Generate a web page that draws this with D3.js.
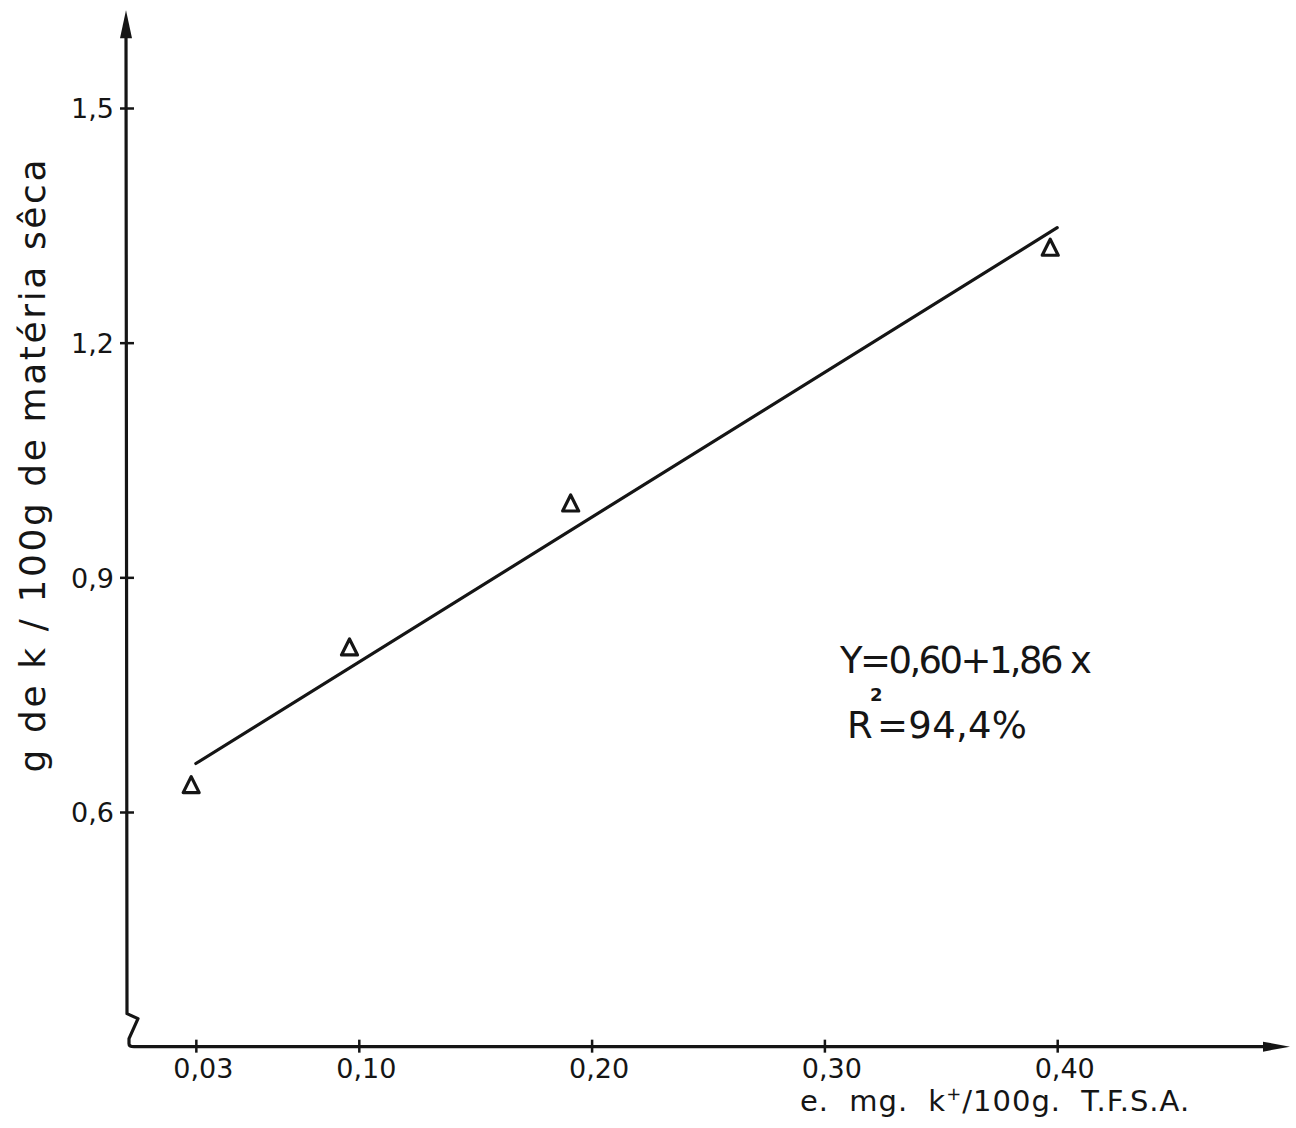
<!DOCTYPE html>
<html>
<head>
<meta charset="utf-8">
<script src="https://cdn.jsdelivr.net/npm/d3@7"></script>
<style>
  html, body { margin: 0; padding: 0; background: #fff; }
  svg { display: block; }
  text { font-family: "DejaVu Sans", sans-serif; fill: #151515; }
</style>
</head>
<body>
<svg id="chart"></svg>
<script>
// Potássio na matéria sêca vs. K trocável no solo (scan reproduction)
const X_TICKS = [0.03, 0.10, 0.20, 0.30, 0.40];
const Y_TICKS = [0.6, 0.9, 1.2, 1.5];

// observed points (triangles)
const POINT_X = [0.028, 0.096, 0.191, 0.397];
const POINT_Y = [0.635, 0.811, 0.995, 1.322];

// fitted line ends
const FIT_X = [0.03, 0.40];
const FIT_Y = [0.662, 1.347];

const Y_LABEL = "g de k / 100g de matéria sêca";
const EQ_LINE = "Y=0,60+1,86 x";
const R2_VALUE = "=94,4%";

const VW = 1296, VH = 1128;
const INK = "#151515";

const svg = d3.select("#chart").attr("width", VW).attr("height", VH)
  .attr("viewBox", `0 0 ${VW} ${VH}`);

// axes run from x=0 and y=0.30 (broken) out to the arrow tips
const x = d3.scaleLinear().domain([0, 0.5]).range([126, 1290]);
const y = d3.scaleLinear().domain([0.6, 1.5]).range([812, 108]);

const locale = d3.formatLocale({ decimal: ",", thousands: ".", grouping: [3], currency: ["", ""] });
const fx = locale.format(".2f");
const fy = locale.format(".1f");

const ox = x(0), oy = y(0.30);
const yTop = y(1.625), xEnd = x(0.5);

// ── axis lines ──────────────────────────────────────────────
const axisPath = d3.path();
axisPath.moveTo(ox, yTop + 20);
axisPath.lineTo(ox + 1, oy - 33);
axisPath.lineTo(ox + 12, oy - 28);   // break zig
axisPath.lineTo(ox + 3, oy - 8);
axisPath.lineTo(ox + 3, oy - 3);
axisPath.quadraticCurveTo(ox + 3, oy, ox + 8, oy);
axisPath.lineTo(xEnd - 20, oy);

svg.append("path").attr("d", axisPath.toString())
  .attr("fill", "none").attr("stroke", INK).attr("stroke-width", 3.2)
  .attr("stroke-linejoin", "round");

// arrow heads
svg.append("path")
  .attr("d", `M${ox},${yTop} L${ox - 6},${yTop + 28} L${ox + 6},${yTop + 28} Z`)
  .attr("fill", INK);
svg.append("path")
  .attr("d", `M${xEnd},${oy} L${xEnd - 27},${oy - 5} L${xEnd - 27},${oy + 5} Z`)
  .attr("fill", INK);

// ── ticks ───────────────────────────────────────────────────
const gy = svg.append("g").attr("transform", `translate(${ox},0)`)
  .call(d3.axisLeft(y).tickValues(Y_TICKS).tickFormat(fy).tickSize(6));
gy.select(".domain").remove();
gy.selectAll(".tick line").attr("x1", 8).attr("x2", -6)
  .attr("stroke", INK).attr("stroke-width", 2.5);
gy.selectAll(".tick text")
  .attr("font-size", 27).attr("font-family", "DejaVu Sans")
  .attr("fill", INK).attr("x", -12).attr("dy", "0.36em");

const gx = svg.append("g").attr("transform", `translate(0,${oy})`)
  .call(d3.axisBottom(x).tickValues(X_TICKS).tickFormat(fx).tickSize(6));
gx.select(".domain").remove();
gx.selectAll(".tick line").attr("y1", -7).attr("y2", 6)
  .attr("stroke", INK).attr("stroke-width", 2.5);
gx.selectAll(".tick text")
  .attr("font-size", 27).attr("font-family", "DejaVu Sans")
  .attr("fill", INK).attr("x", 7).attr("y", 31).attr("dy", 0);

// ── axis titles ─────────────────────────────────────────────
svg.append("text")
  .attr("transform", `translate(45,466) rotate(-90)`)
  .attr("text-anchor", "middle")
  .attr("font-size", 36)
  .attr("textLength", 613).attr("lengthAdjust", "spacing")
  .text(Y_LABEL);

const xt = svg.append("text")
  .attr("x", 800).attr("y", 1111)
  .attr("font-size", 29)
  .attr("letter-spacing", 1)
  .attr("word-spacing", 10);
xt.append("tspan").text("e. mg. k");
xt.append("tspan").attr("font-size", 18).attr("dy", -11).text("+");
xt.append("tspan").attr("dy", 11).text("/100g. T.F.S.A.");

// ── fitted line ─────────────────────────────────────────────
const fit = FIT_X.map((v, i) => ({ x: v, y: FIT_Y[i] }));
svg.append("path")
  .datum(fit)
  .attr("d", d3.line().x(d => x(d.x)).y(d => y(d.y)))
  .attr("fill", "none").attr("stroke", INK).attr("stroke-width", 3.2)
  .attr("stroke-linecap", "round");

// ── points ──────────────────────────────────────────────────
const triangle = {
  draw(ctx, size) {
    const h = Math.sqrt(size);
    ctx.moveTo(0, -h / 2);
    ctx.lineTo(h / 2, h / 2);
    ctx.lineTo(-h / 2, h / 2);
    ctx.closePath();
  }
};
const pts = POINT_X.map((v, i) => ({ x: v, y: POINT_Y[i] }));
svg.append("g").selectAll("path.pt")
  .data(pts)
  .join("path").attr("class", "pt")
  .attr("transform", d => `translate(${x(d.x)},${y(d.y)})`)
  .attr("d", d3.symbol().type(triangle).size(256))
  .attr("fill", "none").attr("stroke", INK).attr("stroke-width", 3.2)
  .attr("stroke-linejoin", "round");

// ── equation ────────────────────────────────────────────────
svg.append("text")
  .attr("x", 840).attr("y", 673)
  .attr("font-size", 37)
  .attr("textLength", 252).attr("lengthAdjust", "spacing")
  .text(EQ_LINE);
svg.append("text")
  .attr("x", 847).attr("y", 738)
  .attr("font-size", 37)
  .text("R");
svg.append("text")
  .attr("x", 877).attr("y", 738)
  .attr("font-size", 37)
  .attr("textLength", 150).attr("lengthAdjust", "spacing")
  .text(R2_VALUE);
svg.append("text")
  .attr("x", 870).attr("y", 701)
  .attr("font-size", 18).attr("font-weight", "bold")
  .text("2");
</script>
</body>
</html>
